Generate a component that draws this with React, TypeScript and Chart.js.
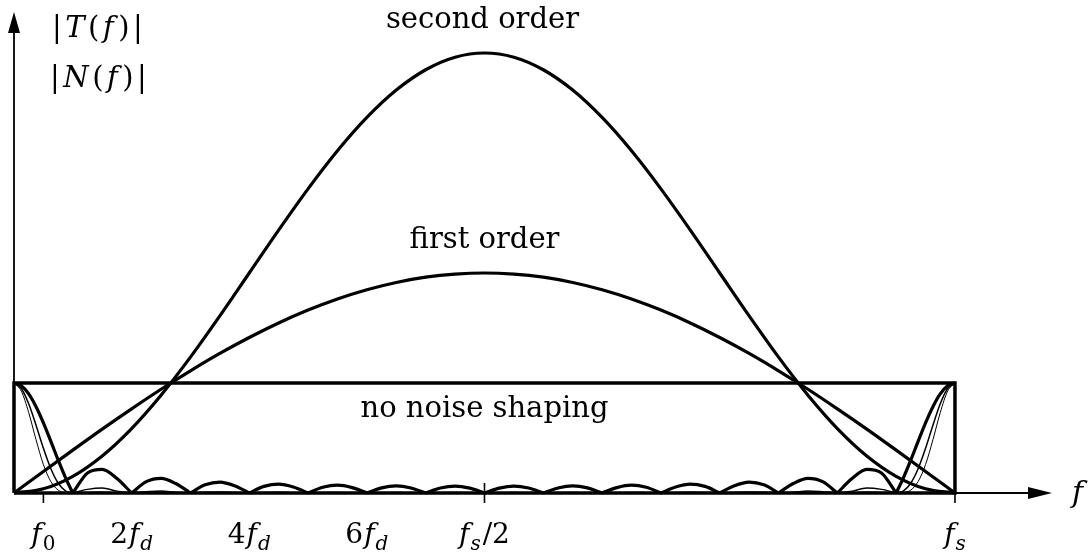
import { useEffect, useRef } from "react";
import { Chart, registerables } from "chart.js";

Chart.register(...registerables);

// Frequency is measured in units of fd; fs = 16 fd.
const FS_IN_FD = 16;
// The horizontal axis runs past fs to make room for the arrow and the "f" label.
const X_EXTENT = 18.33;
const Y_EXTENT = 4.482;

// Noise transfer functions |N(f)| sampled every half fd.
const NTF_U = [
  0, 0.5, 1, 1.5, 2, 2.5, 3, 3.5, 4, 4.5, 5, 5.5, 6, 6.5, 7, 7.5, 8,
  8.5, 9, 9.5, 10, 10.5, 11, 11.5, 12, 12.5, 13, 13.5, 14, 14.5, 15, 15.5, 16,
];
const FIRST_ORDER = [
  0, 0.196, 0.39, 0.581, 0.765, 0.943, 1.111, 1.269, 1.414, 1.546, 1.663, 1.764, 1.848, 1.914, 1.962, 1.99, 2,
  1.99, 1.962, 1.914, 1.848, 1.764, 1.663, 1.546, 1.414, 1.269, 1.111, 0.943, 0.765, 0.581, 0.39, 0.196, 0,
];
const SECOND_ORDER = [
  0, 0.038, 0.152, 0.337, 0.586, 0.889, 1.235, 1.61, 2, 2.39, 2.765, 3.111, 3.414, 3.663, 3.848, 3.962, 4,
  3.962, 3.848, 3.663, 3.414, 3.111, 2.765, 2.39, 2, 1.61, 1.235, 0.889, 0.586, 0.337, 0.152, 0.038, 0,
];

// No noise shaping: flat level, closed off as a box down to the axis.
const FLAT_U = [0, 0, 16, 16, 0];
const FLAT_N = [0, 1, 1, 0, 0];

// Decimation filter |T(f)|: main lobes at 0 and fs, side lobes between.
const MAIN_LOBE_U = [0, 0.125, 0.25, 0.375, 0.5, 0.625, 0.75, 0.875, 1];
const SIDE_LOBE_U = [0.25, 0.5, 0.75];

const SINC1_HEAD = [1, 0.975, 0.901, 0.785, 0.638, 0.472, 0.301, 0.14, 0];
const SINC1_TAIL = [0, 0.14, 0.301, 0.472, 0.638, 0.785, 0.901, 0.975, 1];
const SINC1_LOBES = [
  [0.182, 0.215, 0.131],
  [0.103, 0.133, 0.086],
  [0.074, 0.099, 0.066],
  [0.06, 0.081, 0.055],
  [0.052, 0.071, 0.049],
  [0.047, 0.065, 0.046],
  [0.045, 0.063, 0.044],
  [0.044, 0.063, 0.045],
  [0.046, 0.065, 0.047],
  [0.049, 0.071, 0.052],
  [0.055, 0.081, 0.06],
  [0.066, 0.099, 0.074],
  [0.086, 0.133, 0.103],
  [0.131, 0.215, 0.182],
];

const SINC2_HEAD = [1, 0.95, 0.811, 0.616, 0.407, 0.223, 0.091, 0.02, 0];
const SINC2_TAIL = [0, 0.02, 0.091, 0.223, 0.407, 0.616, 0.811, 0.95, 1];
const SINC2_LOBES = [
  [0.033, 0.046, 0.017],
  [0.011, 0.018, 0.007],
  [0.006, 0.01, 0.004],
  [0.004, 0.007, 0.003],
  [0.003, 0.005, 0.002],
  [0.002, 0.004, 0.002],
  [0.002, 0.004, 0.002],
  [0.002, 0.004, 0.002],
  [0.002, 0.004, 0.002],
  [0.002, 0.005, 0.003],
  [0.003, 0.007, 0.004],
  [0.004, 0.01, 0.006],
  [0.007, 0.018, 0.011],
  [0.017, 0.046, 0.033],
];

const SINC3_HEAD = [1, 0.926, 0.731, 0.484, 0.259, 0.105, 0.027, 0.003, 0];
const SINC3_TAIL = [0, 0.003, 0.027, 0.105, 0.259, 0.484, 0.731, 0.926, 1];
const SINC3_LOBES = [
  [0.006, 0.01, 0.002],
  [0.001, 0.002, 0.001],
  [0, 0.001, 0],
  [0, 0.001, 0],
  [0, 0, 0],
  [0, 0, 0],
  [0, 0, 0],
  [0, 0, 0],
  [0, 0, 0],
  [0, 0, 0],
  [0, 0.001, 0],
  [0, 0.001, 0],
  [0.001, 0.002, 0.001],
  [0.002, 0.01, 0.006],
];

// Frequency labels under the axis.
const TICK_U = [0.5, 2, 4, 6, 8, 16];
const TICK_PREFIX = ["", "2", "4", "6", "", ""];
const TICK_SUB = ["0", "d", "d", "d", "s", "s"];
const TICK_SUFFIX = ["", "", "", "", "/2", ""];
const MARKED_U = [0.5, 8, 16];

const LABEL_SECOND = "second order";
const LABEL_FIRST = "first order";
const LABEL_FLAT = "no noise shaping";

type Pt = { x: number; y: number | null };
type Run = { text: string; italic?: boolean; sub?: boolean; gap?: number };

const SERIF = '"DejaVu Serif", "Liberation Serif", serif';

function pairUp(us: number[], vs: number[]): Pt[] {
  return us.map((u, i) => ({ x: u, y: vs[i] }));
}

// Main lobe, the side lobes (each its own segment so the nulls stay sharp), then the lobe at fs.
function lobeSeries(head: number[], lobes: number[][], tail: number[]): Pt[] {
  const out: Pt[] = [];
  MAIN_LOBE_U.forEach((o, i) => out.push({ x: o, y: head[i] }));
  lobes.forEach((vals, j) => {
    const k = j + 1;
    out.push({ x: k, y: null });
    out.push({ x: k, y: 0 });
    SIDE_LOBE_U.forEach((o, i) => out.push({ x: k + o, y: vals[i] }));
    out.push({ x: k + 1, y: 0 });
  });
  out.push({ x: FS_IN_FD - 1, y: null });
  MAIN_LOBE_U.forEach((o, i) => out.push({ x: FS_IN_FD - 1 + o, y: tail[i] }));
  return out;
}

function runFont(r: Run, size: number) {
  const s = r.sub ? Math.round(size * 0.7) : size;
  return `${r.italic ? "italic " : ""}${s}px ${SERIF}`;
}

function drawRuns(ctx: CanvasRenderingContext2D, runs: Run[], x: number, y: number, size: number, align: "left" | "center") {
  const widths = runs.map((r) => {
    ctx.font = runFont(r, size);
    return ctx.measureText(r.text).width + (r.gap ?? 0);
  });
  const total = widths.reduce((a, b) => a + b, 0);
  let cx = align === "center" ? x - total / 2 : x;
  ctx.textAlign = "left";
  ctx.textBaseline = "alphabetic";
  runs.forEach((r, i) => {
    ctx.font = runFont(r, size);
    ctx.fillText(r.text, cx, r.sub ? y + size * 0.24 : y);
    cx += widths[i];
  });
}

const decorations = {
  id: "decorations",
  beforeDatasetsDraw(chart: any) {
    const { ctx } = chart;
    const xs = chart.scales.x;
    const ys = chart.scales.y;
    const x0 = xs.getPixelForValue(0);
    const y0 = ys.getPixelForValue(0);
    const xEnd = xs.getPixelForValue(X_EXTENT) - 40;
    const yEnd = ys.getPixelForValue(Y_EXTENT) + 12;
    ctx.save();
    ctx.strokeStyle = "#000";
    ctx.fillStyle = "#000";
    ctx.lineWidth = 1.8;
    ctx.beginPath();
    ctx.moveTo(x0, y0);
    ctx.lineTo(x0, yEnd + 18);
    ctx.moveTo(x0, y0);
    ctx.lineTo(xEnd - 18, y0);
    ctx.stroke();
    // arrowheads
    ctx.beginPath();
    ctx.moveTo(x0, yEnd);
    ctx.lineTo(x0 - 6, yEnd + 21);
    ctx.lineTo(x0 + 6, yEnd + 21);
    ctx.closePath();
    ctx.fill();
    ctx.beginPath();
    ctx.moveTo(xEnd, y0);
    ctx.lineTo(xEnd - 24, y0 - 6);
    ctx.lineTo(xEnd - 24, y0 + 6);
    ctx.closePath();
    ctx.fill();
    // tick marks
    ctx.lineWidth = 1.6;
    MARKED_U.forEach((u) => {
      const px = xs.getPixelForValue(u);
      ctx.beginPath();
      ctx.moveTo(px, u === FS_IN_FD / 2 ? y0 - 10 : y0);
      ctx.lineTo(px, y0 + 10);
      ctx.stroke();
    });
    ctx.restore();
  },
  afterDatasetsDraw(chart: any) {
    const { ctx } = chart;
    const xs = chart.scales.x;
    const ys = chart.scales.y;
    const y0 = ys.getPixelForValue(0);
    const mid = xs.getPixelForValue(FS_IN_FD / 2);
    ctx.save();
    ctx.fillStyle = "#000";
    const size = 29;
    drawRuns(ctx, [{ text: LABEL_SECOND }], mid - 2, 28, size, "center");
    drawRuns(ctx, [{ text: LABEL_FIRST }], mid, 248, size, "center");
    drawRuns(ctx, [{ text: LABEL_FLAT }], mid, 417, size, "center");

    const g = 3.5;
    drawRuns(
      ctx,
      [
        { text: "|", gap: g },
        { text: "T", italic: true, gap: g },
        { text: "(", gap: g },
        { text: "f", italic: true, gap: g + 1 },
        { text: ")", gap: g },
        { text: "|" },
      ],
      52, 37, 29, "left"
    );
    drawRuns(
      ctx,
      [
        { text: "|", gap: g },
        { text: "N", italic: true, gap: g },
        { text: "(", gap: g },
        { text: "f", italic: true, gap: g + 1 },
        { text: ")", gap: g },
        { text: "|" },
      ],
      50, 87, 29, "left"
    );

    TICK_U.forEach((u, i) => {
      const runs: Run[] = [];
      if (TICK_PREFIX[i]) runs.push({ text: TICK_PREFIX[i], gap: 1 });
      runs.push({ text: "f", italic: true, gap: 1 });
      runs.push({ text: TICK_SUB[i], sub: true, italic: /[a-z]/.test(TICK_SUB[i]), gap: TICK_SUFFIX[i] ? 2 : 0 });
      if (TICK_SUFFIX[i]) runs.push({ text: TICK_SUFFIX[i] });
      drawRuns(ctx, runs, xs.getPixelForValue(u), y0 + 50, 28, "center");
    });

    drawRuns(ctx, [{ text: "f", italic: true }], 1072, y0 + 9, 30, "left");
    ctx.restore();
  },
};

export default function App() {
  const ref = useRef<HTMLCanvasElement | null>(null);

  useEffect(() => {
    if (!ref.current) return;
    const line = (data: Pt[], width: number, monotone: boolean) => ({
      data,
      borderColor: "#000",
      borderWidth: width,
      pointRadius: 0,
      fill: false,
      tension: 0,
      clip: 10,
      cubicInterpolationMode: monotone ? ("monotone" as const) : ("default" as const),
    });
    const chart = new Chart(ref.current, {
      type: "line",
      data: {
        datasets: [
          line(pairUp(FLAT_U, FLAT_N), 3.5, false),
          line(pairUp(NTF_U, FIRST_ORDER), 3.2, true),
          line(pairUp(NTF_U, SECOND_ORDER), 3.2, true),
          line(lobeSeries(SINC1_HEAD, SINC1_LOBES, SINC1_TAIL), 3.2, true),
          line(lobeSeries(SINC2_HEAD, SINC2_LOBES, SINC2_TAIL), 1.5, true),
          line(lobeSeries(SINC3_HEAD, SINC3_LOBES, SINC3_TAIL), 1, true),
        ] as any,
      },
      options: {
        animation: false,
        responsive: false,
        parsing: true,
        layout: { padding: { left: 14, right: 0, top: 0, bottom: 62 } },
        scales: {
          x: { type: "linear", min: 0, max: X_EXTENT, display: false },
          y: { type: "linear", min: 0, max: Y_EXTENT, display: false },
        },
        plugins: { legend: { display: false }, tooltip: { enabled: false } },
        events: [],
      },
      plugins: [decorations],
    });
    return () => chart.destroy();
  }, []);

  return (
    <div style={{ position: "absolute", left: 0, top: 0, width: 1092, height: 555, background: "#fff" }}>
      <canvas ref={ref} width={1092} height={555} style={{ display: "block" }} />
    </div>
  );
}
